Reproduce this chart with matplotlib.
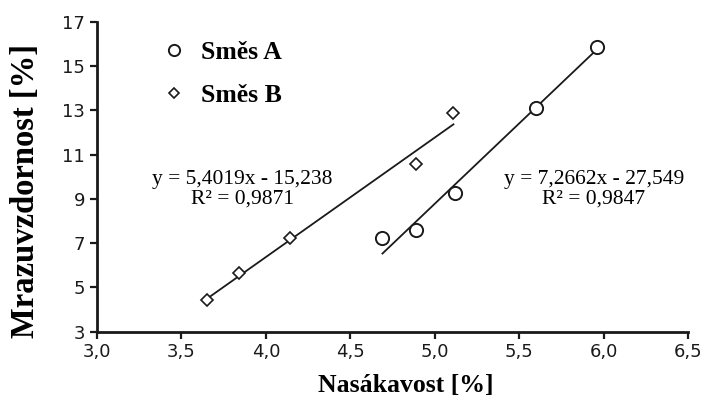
import matplotlib.pyplot as plt
import numpy as np

# Směs A (circles)
xa = [4.69, 4.89, 5.12, 5.60, 5.96]
ya = [7.21, 7.59, 9.26, 13.12, 15.87]
# Směs B (diamonds)
xb = [3.65, 3.84, 4.14, 4.89, 5.11]
yb = [4.43, 5.63, 7.23, 10.57, 12.87]

# trendline coefficients
ka, qa = 7.2662, -27.549
kb, qb = 5.4019, -15.238

serif = 'Liberation Serif'

fig = plt.figure(figsize=(7.07, 4.03), dpi=100)
ax = fig.add_axes([0.137, 0.177, 0.8366, 0.769])

lx = np.array([min(xb), max(xb)])
ax.plot(lx, kb * lx + qb, color='#1a1a1a', lw=1.3)
lx = np.array([min(xa), max(xa)])
ax.plot(lx, ka * lx + qa, color='#1a1a1a', lw=1.3)

ax.plot(xa, ya, 'o', ms=9.5, mfc='white', mec='#1a1a1a', mew=1.4, label='Směs A')
ax.plot(xb, yb, 'D', ms=6.5, mfc='white', mec='#1a1a1a', mew=1.2, label='Směs B')

ax.set_xlim(3.0, 6.5)
ax.set_ylim(3, 17)
ax.set_xticks(np.arange(3.0, 6.51, 0.5))
ax.set_yticks(np.arange(3, 17.1, 2))
ax.set_xticklabels([f'{v:.1f}'.replace('.', ',') for v in np.arange(3.0, 6.51, 0.5)])

for s in ['top', 'right']:
    ax.spines[s].set_visible(False)
for s in ['left', 'bottom']:
    ax.spines[s].set_linewidth(2)
    ax.spines[s].set_color('#1a1a1a')
ax.tick_params(direction='out', length=5, width=1.6, colors='#1a1a1a', labelsize=13)

ax.set_xlabel('Nasákavost [%]', family=serif, weight='bold', fontsize=18.5)
ax.set_ylabel('Mrazuvzdornost [%]', family=serif, weight='bold', fontsize=23.5)
ax.xaxis.set_label_coords(0.523, -0.135)
ax.yaxis.set_label_coords(-0.095, 0.455)

ax.text(3.86, 9.43, 'y = 5,4019x - 15,238\nR² = 0,9871', family=serif, fontsize=15.5,
        ha='center', va='center', linespacing=1.05)
ax.text(5.94, 9.43, 'y = 7,2662x - 27,549\nR² = 0,9847', family=serif, fontsize=15.5,
        ha='center', va='center', linespacing=1.05)

leg = ax.legend(loc='upper left', bbox_to_anchor=(0.07, 1.013), frameon=False,
                prop={'family': serif, 'weight': 'bold', 'size': 18.5},
                handletextpad=0.55, labelspacing=0.8, handlelength=1.0, markerscale=0.85)

fig.savefig('out.png', dpi=100)
